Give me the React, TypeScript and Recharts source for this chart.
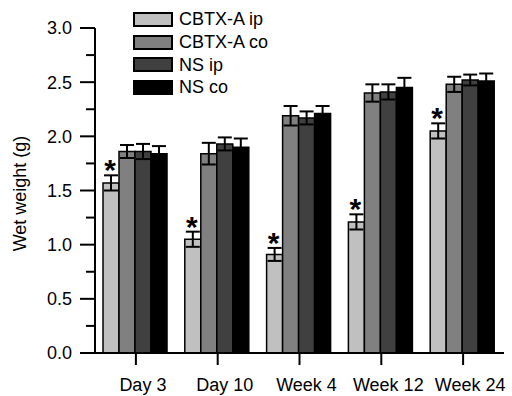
import React from 'react';
import { BarChart, Bar, XAxis, YAxis, ErrorBar, LabelList } from 'recharts';

const categories = ['Day 3', 'Day 10', 'Week 4', 'Week 12', 'Week 24'];

const cbtxIp = [1.57, 1.05, 0.91, 1.21, 2.05];
const cbtxIpErr = [0.07, 0.07, 0.06, 0.07, 0.07];
const cbtxCo = [1.86, 1.84, 2.19, 2.40, 2.48];
const cbtxCoErr = [0.06, 0.10, 0.09, 0.08, 0.07];
const nsIp = [1.86, 1.93, 2.17, 2.41, 2.52];
const nsIpErr = [0.07, 0.06, 0.06, 0.07, 0.05];
const nsCo = [1.84, 1.90, 2.21, 2.45, 2.51];
const nsCoErr = [0.07, 0.08, 0.07, 0.09, 0.07];

// significant vs control (asterisk above CBTX-A ip)
const starred = [true, true, true, true, true];

const yTicks = [0, 0.25, 0.5, 0.75, 1, 1.25, 1.5, 1.75, 2, 2.25, 2.5, 2.75, 3];

const series = [
  { key: 'cip', name: 'CBTX-A ip', color: '#c0c0c0' },
  { key: 'cco', name: 'CBTX-A co', color: '#808080' },
  { key: 'nip', name: 'NS ip', color: '#404040' },
  { key: 'nco', name: 'NS co', color: '#000000' },
];

const data = categories.map((name, i) => ({
  name,
  cip: cbtxIp[i],
  cipErr: cbtxIpErr[i],
  cco: cbtxCo[i],
  ccoErr: cbtxCoErr[i],
  nip: nsIp[i],
  nipErr: nsIpErr[i],
  nco: nsCo[i],
  ncoErr: nsCoErr[i],
}));

const FONT = 'Arial, "Liberation Sans", sans-serif';

const YTick = (props: any) => {
  const { x, y, payload } = props;
  const v = payload.value as number;
  const major = Math.abs(v * 2 - Math.round(v * 2)) < 1e-6;
  return (
    <g>
      <line x1={x - (major ? 15 : 9)} x2={x} y1={y} y2={y} stroke="#000" strokeWidth={2} />
      {major && (
        <text x={x - 23} y={y} dy="0.36em" textAnchor="end" fontSize={18} fontFamily={FONT} fill="#000">
          {v.toFixed(1)}
        </text>
      )}
    </g>
  );
};

const renderStar = (props: any) => {
  const { x, y, width, height, index, value } = props;
  if (!starred[index]) return null;
  const errPx = (cbtxIpErr[index] * height) / value;
  const capY = y - errPx;
  return (
    <text
      x={x + width / 2 - 1}
      y={capY + 5}
      textAnchor="middle"
      fontSize={30}
      fontWeight="bold"
      fontFamily={FONT}
      fill="#000"
    >
      *
    </text>
  );
};

const LegendBox = () => (
  <div
    style={{
      position: 'absolute',
      left: 133,
      top: 8,
      fontFamily: FONT,
      fontSize: 18,
      color: '#000',
    }}
  >
    {series.map(s => (
      <div key={s.key} style={{ display: 'flex', alignItems: 'center', height: 22.7 }}>
        <div
          style={{
            width: 36,
            height: 11,
            background: s.color,
            border: '2px solid #000',
            marginRight: 6,
          }}
        />
        <span style={{ lineHeight: '18px' }}>{s.name}</span>
      </div>
    ))}
  </div>
);

export default function App() {
  return (
    <div style={{ position: 'absolute', left: 0, top: 0, width: 512, height: 396, background: '#fff' }}>
      <BarChart
        width={512}
        height={396}
        data={data}
        margin={{ top: 28, right: 8, left: 0, bottom: 0 }}
        barCategoryGap={8}
        barGap={0}
      >
        <XAxis
          dataKey="name"
          height={43}
          axisLine={{ stroke: '#000', strokeWidth: 2 }}
          tickLine={{ stroke: '#000', strokeWidth: 2 }}
          tickSize={12}
          tickMargin={13}
          tick={{ fontSize: 18, fontFamily: FONT, fill: '#000', dx: 7 }}
        />
        <YAxis
          width={95}
          domain={[0, 3]}
          ticks={yTicks}
          interval={0}
          axisLine={{ stroke: '#000', strokeWidth: 2 }}
          tickLine={false}
          tickSize={0}
          tickMargin={0}
          tick={<YTick />}
          label={{
            value: 'Wet weight (g)',
            angle: -90,
            position: 'insideLeft',
            offset: 20,
            dy: 3,
            style: { textAnchor: 'middle', fontSize: 18, fontFamily: FONT, fill: '#000' },
          }}
        />
        {series.map(s => (
          <Bar
            key={s.key}
            dataKey={s.key}
            name={s.name}
            fill={s.color}
            stroke="#000"
            strokeWidth={1.5}
            isAnimationActive={false}
          >
            <ErrorBar
              dataKey={s.key + 'Err'}
              width={7}
              stroke="#000"
              strokeWidth={2}
              direction="y"
              isAnimationActive={false}
            />
            {s.key === 'cip' && <LabelList dataKey="cip" content={renderStar} />}
          </Bar>
        ))}
      </BarChart>
      <LegendBox />
    </div>
  );
}
